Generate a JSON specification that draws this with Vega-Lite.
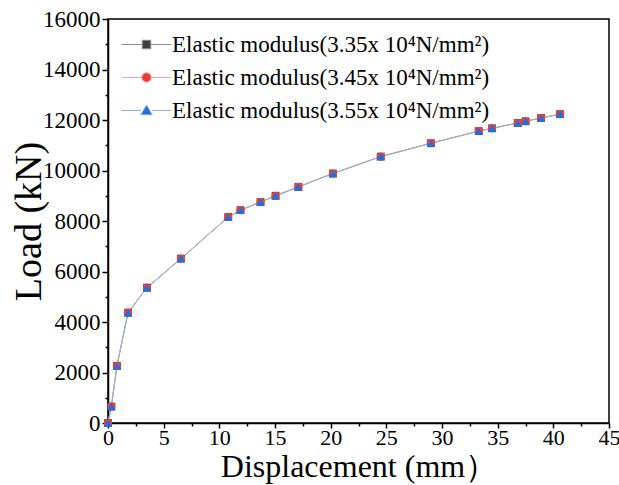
{
  "$schema": "https://vega.github.io/schema/vega-lite/v6.json",
  "width": 501,
  "height": 404,
  "autosize": {"type": "none"},
  "padding": {"left": 108, "top": 19, "right": 10, "bottom": 62},
  "background": "white",
  "config": {
    "view": {"stroke": "black", "strokeWidth": 1.5},
    "font": "Liberation Serif",
    "axis": {"labelFont": "Liberation Serif", "titleFont": "Liberation Serif"},
    "legend": {"labelFont": "Liberation Serif"}
  },
  "datasets": {
    "pts": [
      {"s": "Elastic modulus(3.35x 10⁴N/mm²)", "d": 0, "L": 0},
      {"s": "Elastic modulus(3.35x 10⁴N/mm²)", "d": 0.3, "L": 650},
      {"s": "Elastic modulus(3.35x 10⁴N/mm²)", "d": 0.8, "L": 2260},
      {"s": "Elastic modulus(3.35x 10⁴N/mm²)", "d": 1.8, "L": 4370},
      {"s": "Elastic modulus(3.35x 10⁴N/mm²)", "d": 3.5, "L": 5360},
      {"s": "Elastic modulus(3.35x 10⁴N/mm²)", "d": 6.55, "L": 6510},
      {"s": "Elastic modulus(3.35x 10⁴N/mm²)", "d": 10.8, "L": 8160},
      {"s": "Elastic modulus(3.35x 10⁴N/mm²)", "d": 11.9, "L": 8430},
      {"s": "Elastic modulus(3.35x 10⁴N/mm²)", "d": 13.7, "L": 8750},
      {"s": "Elastic modulus(3.35x 10⁴N/mm²)", "d": 15.05, "L": 9000},
      {"s": "Elastic modulus(3.35x 10⁴N/mm²)", "d": 17.1, "L": 9350},
      {"s": "Elastic modulus(3.35x 10⁴N/mm²)", "d": 20.2, "L": 9880},
      {"s": "Elastic modulus(3.35x 10⁴N/mm²)", "d": 24.5, "L": 10550},
      {"s": "Elastic modulus(3.35x 10⁴N/mm²)", "d": 29.0, "L": 11080},
      {"s": "Elastic modulus(3.35x 10⁴N/mm²)", "d": 33.3, "L": 11560},
      {"s": "Elastic modulus(3.35x 10⁴N/mm²)", "d": 34.5, "L": 11670},
      {"s": "Elastic modulus(3.35x 10⁴N/mm²)", "d": 36.8, "L": 11880},
      {"s": "Elastic modulus(3.35x 10⁴N/mm²)", "d": 37.5, "L": 11950},
      {"s": "Elastic modulus(3.35x 10⁴N/mm²)", "d": 38.9, "L": 12080},
      {"s": "Elastic modulus(3.35x 10⁴N/mm²)", "d": 40.6, "L": 12230},
      {"s": "Elastic modulus(3.45x 10⁴N/mm²)", "d": 0, "L": 0},
      {"s": "Elastic modulus(3.45x 10⁴N/mm²)", "d": 0.3, "L": 650},
      {"s": "Elastic modulus(3.45x 10⁴N/mm²)", "d": 0.8, "L": 2260},
      {"s": "Elastic modulus(3.45x 10⁴N/mm²)", "d": 1.8, "L": 4370},
      {"s": "Elastic modulus(3.45x 10⁴N/mm²)", "d": 3.5, "L": 5360},
      {"s": "Elastic modulus(3.45x 10⁴N/mm²)", "d": 6.55, "L": 6510},
      {"s": "Elastic modulus(3.45x 10⁴N/mm²)", "d": 10.8, "L": 8160},
      {"s": "Elastic modulus(3.45x 10⁴N/mm²)", "d": 11.9, "L": 8430},
      {"s": "Elastic modulus(3.45x 10⁴N/mm²)", "d": 13.7, "L": 8750},
      {"s": "Elastic modulus(3.45x 10⁴N/mm²)", "d": 15.05, "L": 9000},
      {"s": "Elastic modulus(3.45x 10⁴N/mm²)", "d": 17.1, "L": 9350},
      {"s": "Elastic modulus(3.45x 10⁴N/mm²)", "d": 20.2, "L": 9880},
      {"s": "Elastic modulus(3.45x 10⁴N/mm²)", "d": 24.5, "L": 10550},
      {"s": "Elastic modulus(3.45x 10⁴N/mm²)", "d": 29.0, "L": 11080},
      {"s": "Elastic modulus(3.45x 10⁴N/mm²)", "d": 33.3, "L": 11560},
      {"s": "Elastic modulus(3.45x 10⁴N/mm²)", "d": 34.5, "L": 11670},
      {"s": "Elastic modulus(3.45x 10⁴N/mm²)", "d": 36.8, "L": 11880},
      {"s": "Elastic modulus(3.45x 10⁴N/mm²)", "d": 37.5, "L": 11950},
      {"s": "Elastic modulus(3.45x 10⁴N/mm²)", "d": 38.9, "L": 12080},
      {"s": "Elastic modulus(3.45x 10⁴N/mm²)", "d": 40.6, "L": 12230},
      {"s": "Elastic modulus(3.55x 10⁴N/mm²)", "d": 0, "L": 0},
      {"s": "Elastic modulus(3.55x 10⁴N/mm²)", "d": 0.3, "L": 650},
      {"s": "Elastic modulus(3.55x 10⁴N/mm²)", "d": 0.8, "L": 2260},
      {"s": "Elastic modulus(3.55x 10⁴N/mm²)", "d": 1.8, "L": 4370},
      {"s": "Elastic modulus(3.55x 10⁴N/mm²)", "d": 3.5, "L": 5360},
      {"s": "Elastic modulus(3.55x 10⁴N/mm²)", "d": 6.55, "L": 6510},
      {"s": "Elastic modulus(3.55x 10⁴N/mm²)", "d": 10.8, "L": 8160},
      {"s": "Elastic modulus(3.55x 10⁴N/mm²)", "d": 11.9, "L": 8430},
      {"s": "Elastic modulus(3.55x 10⁴N/mm²)", "d": 13.7, "L": 8750},
      {"s": "Elastic modulus(3.55x 10⁴N/mm²)", "d": 15.05, "L": 9000},
      {"s": "Elastic modulus(3.55x 10⁴N/mm²)", "d": 17.1, "L": 9350},
      {"s": "Elastic modulus(3.55x 10⁴N/mm²)", "d": 20.2, "L": 9880},
      {"s": "Elastic modulus(3.55x 10⁴N/mm²)", "d": 24.5, "L": 10550},
      {"s": "Elastic modulus(3.55x 10⁴N/mm²)", "d": 29.0, "L": 11080},
      {"s": "Elastic modulus(3.55x 10⁴N/mm²)", "d": 33.3, "L": 11560},
      {"s": "Elastic modulus(3.55x 10⁴N/mm²)", "d": 34.5, "L": 11670},
      {"s": "Elastic modulus(3.55x 10⁴N/mm²)", "d": 36.8, "L": 11880},
      {"s": "Elastic modulus(3.55x 10⁴N/mm²)", "d": 37.5, "L": 11950},
      {"s": "Elastic modulus(3.55x 10⁴N/mm²)", "d": 38.9, "L": 12080},
      {"s": "Elastic modulus(3.55x 10⁴N/mm²)", "d": 40.6, "L": 12230}
    ]
  },
  "data": {"name": "pts"},
  "encoding": {
    "x": {
      "field": "d",
      "type": "quantitative",
      "scale": {"domain": [0, 45], "nice": false, "zero": false},
      "axis": {
        "title": "Displacement (mm）",
        "values": [0, 2.5, 5, 7.5, 10, 12.5, 15, 17.5, 20, 22.5, 25, 27.5, 30, 32.5, 35, 37.5, 40, 42.5, 45],
        "labelExpr": "datum.value % 5 === 0 ? format(datum.value, 'd') : ''",
        "labelFlush": false,
        "labelOverlap": false,
        "labelFont": "Liberation Serif",
        "labelFontSize": 22,
        "labelColor": "black",
        "labelPadding": -1,
        "tickSize": {"condition": {"test": "datum.value % 5 === 0", "value": 5}, "value": 3},
        "tickColor": "black",
        "tickWidth": 1.5,
        "domainColor": "black",
        "domainWidth": 1.5,
        "grid": false,
        "titleFont": "Liberation Serif",
        "titleFontSize": 32,
        "titleFontWeight": "normal",
        "titleColor": "black",
        "titlePadding": 3
      }
    },
    "y": {
      "field": "L",
      "type": "quantitative",
      "scale": {"domain": [0, 16000], "nice": false, "zero": false},
      "axis": {
        "title": "Load (kN)",
        "values": [0, 1000, 2000, 3000, 4000, 5000, 6000, 7000, 8000, 9000, 10000, 11000, 12000, 13000, 14000, 15000, 16000],
        "labelExpr": "datum.value % 2000 === 0 ? format(datum.value, 'd') : ''",
        "labelFlush": false,
        "labelOverlap": false,
        "labelFont": "Liberation Serif",
        "labelFontSize": 23,
        "labelColor": "black",
        "labelPadding": 2,
        "tickSize": {"condition": {"test": "datum.value % 2000 === 0", "value": 6}, "value": 3},
        "tickColor": "black",
        "tickWidth": 1.5,
        "domainColor": "black",
        "domainWidth": 1.5,
        "grid": false,
        "titleFont": "Liberation Serif",
        "titleFontSize": 38,
        "titleFontWeight": "normal",
        "titleColor": "black",
        "titlePadding": -6
      }
    }
  },
  "layer": [
    {
      "mark": {"type": "line", "strokeWidth": 1, "clip": false},
      "encoding": {
        "stroke": {
          "field": "s",
          "type": "nominal",
          "scale": {"range": ["#8c8c8c", "#f2a0a0", "#8fb3cc"]},
          "legend": null
        }
      }
    },
    {
      "mark": {"type": "point", "filled": true, "opacity": 1, "strokeWidth": 0},
      "encoding": {
        "fill": {
          "field": "s",
          "type": "nominal",
          "scale": {"range": ["#3f3f3f", "#f23c3c", "#1f6fdc"]},
          "legend": null
        },
        "shape": {
          "field": "s",
          "type": "nominal",
          "scale": {"range": ["square", "circle", "triangle-up"]},
          "legend": null
        },
        "size": {
          "field": "s",
          "type": "nominal",
          "scale": {"range": [60, 75, 300]},
          "legend": null
        }
      }
    },
    {
      "transform": [{"filter": "false"}],
      "mark": {"type": "point", "filled": true, "opacity": 1, "strokeWidth": 1},
      "encoding": {
        "fill": {
          "field": "s",
          "type": "nominal",
          "scale": {
            "domain": ["Elastic modulus(3.35x 10⁴N/mm²)", "Elastic modulus(3.45x 10⁴N/mm²)", "Elastic modulus(3.55x 10⁴N/mm²)"],
            "range": ["#3f3f3f", "#f23c3c", "#1f6fdc"]
          },
          "legend": {
            "title": null, "orient": "top-left", "offset": 14, "padding": 0,
            "labelFont": "Liberation Serif", "labelFontSize": 23, "labelColor": "black", "labelLimit": 0,
            "symbolSize": 72, "symbolOffset": 13, "labelOffset": 14, "rowPadding": 9,
            "symbolStrokeWidth": 1
          }
        },
        "stroke": {
          "field": "s",
          "type": "nominal",
          "scale": {
            "domain": ["Elastic modulus(3.35x 10⁴N/mm²)", "Elastic modulus(3.45x 10⁴N/mm²)", "Elastic modulus(3.55x 10⁴N/mm²)"],
            "range": ["#8c8c8c", "#f2a0a0", "#8fb3cc"]
          },
          "legend": {
            "title": null, "orient": "top-left", "offset": 14, "padding": 0,
            "labelFont": "Liberation Serif", "labelFontSize": 23, "labelColor": "black", "labelLimit": 0,
            "symbolSize": 72, "symbolOffset": 13, "labelOffset": 14, "rowPadding": 9,
            "symbolStrokeWidth": 1
          }
        },
        "shape": {
          "field": "s",
          "type": "nominal",
          "scale": {
            "domain": ["Elastic modulus(3.35x 10⁴N/mm²)", "Elastic modulus(3.45x 10⁴N/mm²)", "Elastic modulus(3.55x 10⁴N/mm²)"],
            "range": [
              "M-5.9,0H-1M1,0H5.9M-1,-1H1V1H-1Z",
              "M-5.9,0H-1.1M1.1,0H5.9M-1.1,0A1.1,1.1,0,1,0,1.1,0A1.1,1.1,0,1,0,-1.1,0Z",
              "M-5.9,0H-1.3M1.3,0H5.9M0,-1.3L1.35,1H-1.35Z"
            ]
          },
          "legend": {
            "title": null, "orient": "top-left", "offset": 14, "padding": 0,
            "labelFont": "Liberation Serif", "labelFontSize": 23, "labelColor": "black", "labelLimit": 0,
            "symbolSize": 72, "symbolOffset": 13, "labelOffset": 14, "rowPadding": 9,
            "symbolStrokeWidth": 1
          }
        }
      }
    }
  ],
  "resolve": {
    "scale": {"fill": "independent", "shape": "independent", "stroke": "independent", "size": "independent"}
  }
}
